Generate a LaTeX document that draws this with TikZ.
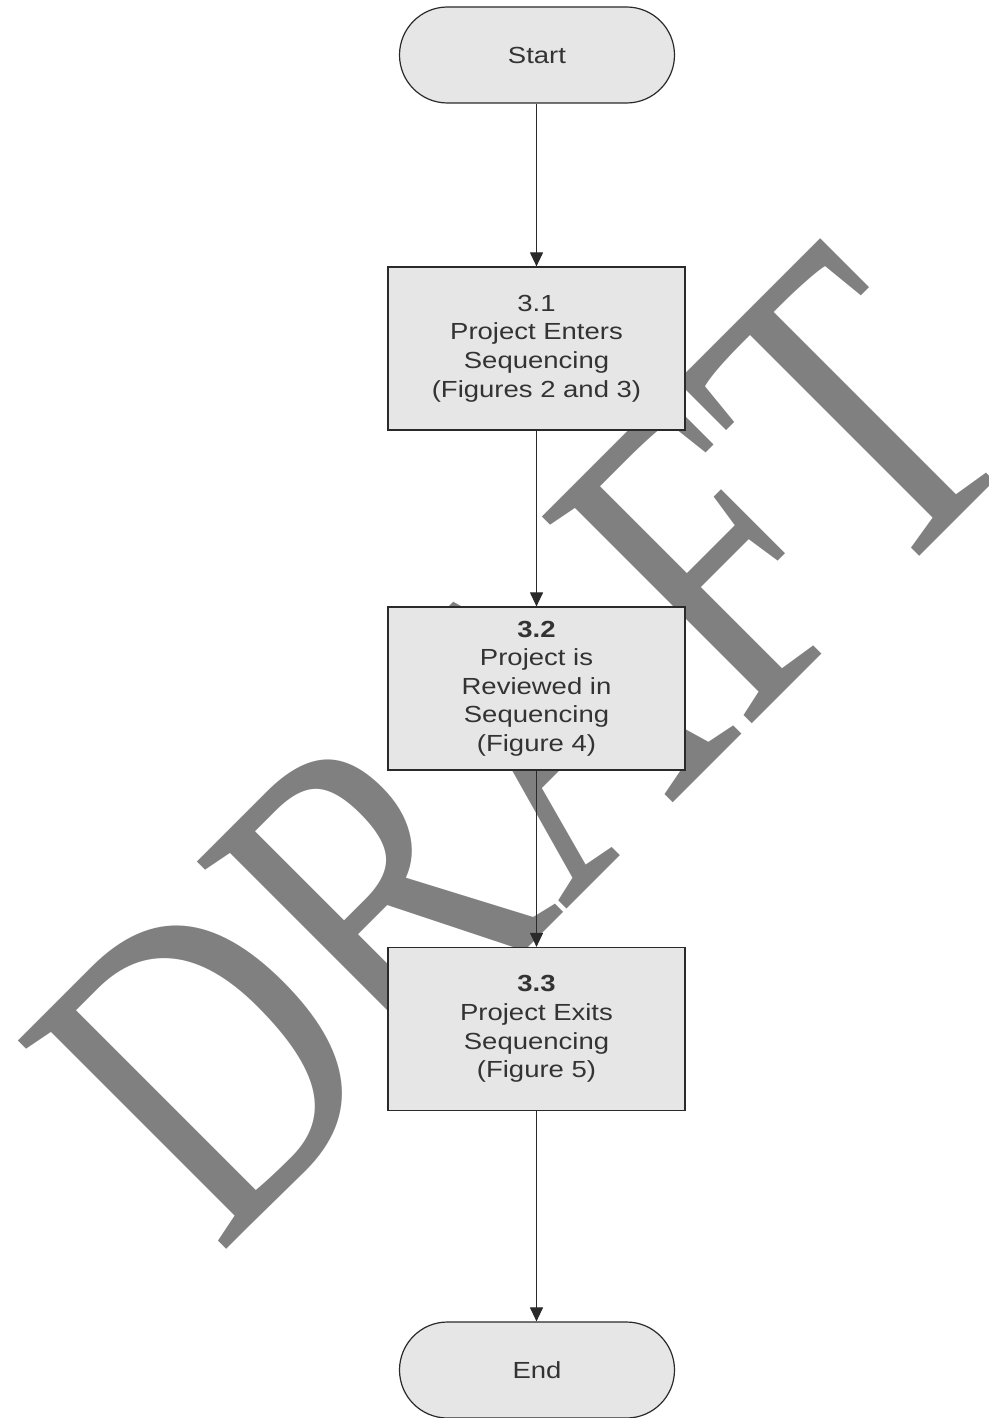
\documentclass[tikz,border=0pt]{standalone}
\usepackage{fontspec}
\usepackage{graphicx}
\setmainfont{Liberation Sans}
\newfontfamily\boxfont[FakeStretch=1.18]{Liberation Sans}
\newfontfamily\wmfont[FakeStretch=0.78,Kerning=Off]{Liberation Serif}
\usetikzlibrary{arrows.meta}
\definecolor{boxfill}{HTML}{E6E6E6}
\definecolor{edgecol}{HTML}{2A2A2A}
\definecolor{txtcol}{HTML}{333333}
\definecolor{wmcol}{HTML}{808080}
\begin{document}
\begin{tikzpicture}[x=1pt,y=-1pt,
  proc/.style={draw=edgecol, line width=1.2pt, fill=boxfill, minimum width=297pt, minimum height=163pt, inner sep=0pt, align=center, font=\boxfont\fontsize{23.3}{28.6}\selectfont, text=txtcol},
  term/.style={draw=edgecol, line width=1.2pt, fill=boxfill, minimum width=275pt, minimum height=96pt, rounded corners=48pt, inner sep=0pt, font=\boxfont\fontsize{23.3}{28.6}\selectfont, text=txtcol},
  conn/.style={draw=edgecol, line width=1.1pt, -{Triangle[width=13pt,length=14pt]}}]
\fill[white] (0,0) rectangle (988,1418);
\useasboundingbox (0,0) rectangle (988,1418);
\node[rotate=45, anchor=base west, inner sep=0pt, text=wmcol, font=\wmfont\fontsize{450}{450}\selectfont] (wm) at (219.25,1256.75) {DRAFT};
\node[term] (start) at (537,55) {Start};
\node[proc] (p1) at (536.5,348.5) {3.1\\Project Enters\\Sequencing\\(Figures 2 and 3)};
\node[proc] (p2) at (536.5,688.5) {\textbf{3.2}\\Project is\\Reviewed in\\Sequencing\\(Figure 4)};
\node[proc] (p3) at (536.5,1029) {\textbf{3.3}\\Project Exits\\Sequencing\\(Figure 5)};
\node[term] (end) at (537,1370) {End};
\draw[conn] (start.south -| p1.north) -- (p1.north);
\draw[conn] (p1) -- (p2);
\draw[conn] (p2) -- (p3);
\draw[conn] (p3.south) -- (p3.south |- end.north);
\end{tikzpicture}
\end{document}
